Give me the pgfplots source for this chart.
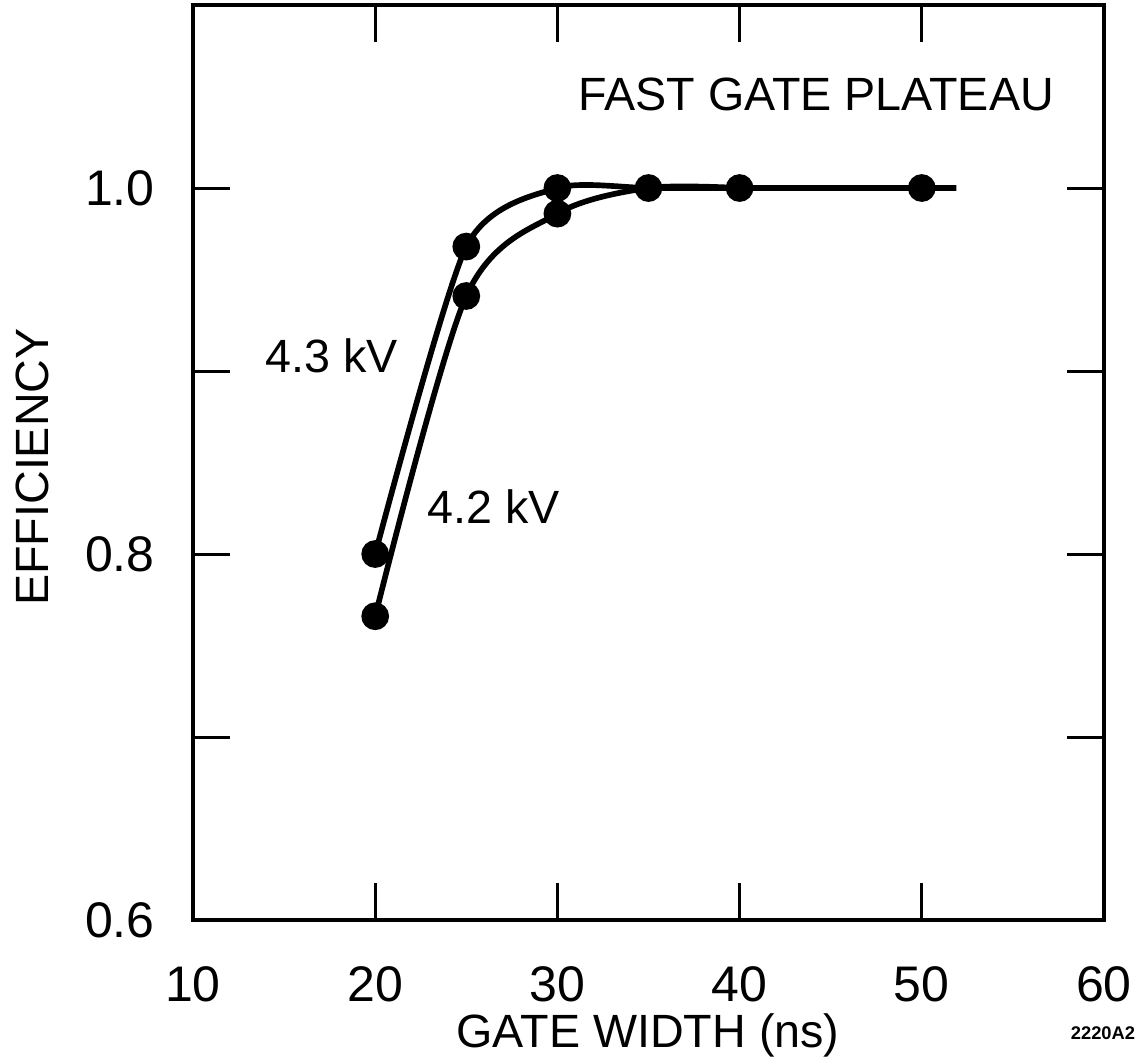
\documentclass[border=0pt]{standalone}
\usepackage{fontspec}
\setmainfont{Liberation Sans}
\usepackage{pgfplots}
\pgfplotsset{compat=1.18}

% 1 px of the reference = 0.3pt
\begin{document}
\begin{tikzpicture}
\path[use as bounding box] (-57.9pt,-41.1pt) rectangle (286.5pt,276pt);
\begin{axis}[
  at={(0,0)}, anchor=south west,
  scale only axis, width=273.3pt, height=274.5pt,
  xmin=10, xmax=60, ymin=0.6, ymax=1.1,
  xtick={10,20,...,60}, ytick={0.6,0.7,0.8,0.9,1.0},
  yticklabels={0.6,,0.8,,1.0},
  /pgf/number format/assume math mode=true,
  xticklabel style={font=\fontsize{15}{18}\selectfont, yshift=-10.5pt},
  yticklabel style={font=\fontsize{15}{18}\selectfont, xshift=-8pt,
    /pgf/number format/fixed, /pgf/number format/precision=1,
    /pgf/number format/fixed zerofill},
  tick align=inside, major tick length=11pt,
  tick style={black, line width=0.9pt},
  axis line style={line width=1pt},
  xlabel={GATE WIDTH (ns)}, ylabel={EFFICIENCY},
  label style={font=\fontsize{14}{17}\selectfont},
  xlabel style={at={(axis description cs:0.4995,-0.126)}, anchor=center},
  ylabel style={at={(axis description cs:-0.1767,0.495)}, anchor=center},
  clip=false,
]
% 4.3 kV
\addplot[black, line width=1.7pt, smooth, tension=0.42, mark=*, mark size=3.3pt,
  mark indices={1,2,3,4,5,6}] coordinates {
  (20,0.800) (25,0.968) (30,1.000) (35,1.000) (40,1.000) (50,1.000) (51.9,1.000)
};
% 4.2 kV
\addplot[black, line width=1.7pt, smooth, tension=0.5, mark=*, mark size=3.3pt,
  mark indices={1,2,3}] coordinates {
  (20,0.766) (25,0.941) (30,0.986) (35,1.000) (40,1.000)
};
\node[font=\fontsize{14}{17}\selectfont] at (axis cs:44.2,1.051) {FAST GATE PLATEAU};
\node[font=\fontsize{14}{17}\selectfont] at (axis cs:17.63,0.9085) {4.3 kV};
\node[font=\fontsize{14}{17}\selectfont] at (axis cs:26.52,0.8258) {4.2 kV};
\node[font=\bfseries\fontsize{5.5}{6}\selectfont] at (axis description cs:0.9989,-0.1235) {2220A2};
\end{axis}
\end{tikzpicture}
\end{document}
